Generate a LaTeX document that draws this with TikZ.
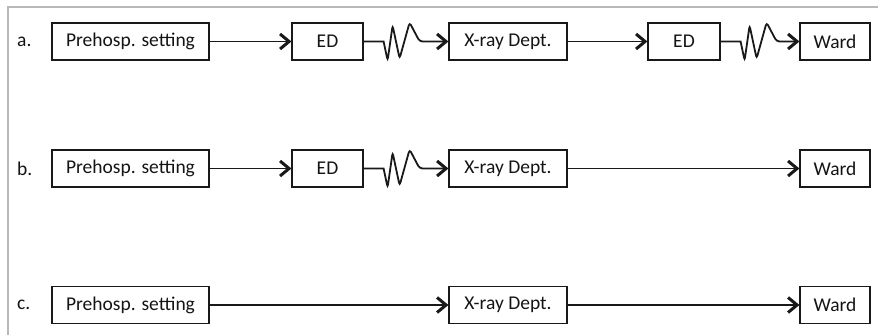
\documentclass[tikz,border=0pt]{standalone}
\usepackage{fontspec}
\setmainfont{Carlito}
\usetikzlibrary{arrows.meta}

\tikzset{
  stagebox/.style={draw=black!90, line width=1.2pt, minimum height=37pt, inner sep=0pt,
    font=\fontsize{19.5}{22}\selectfont, text=black!92},
  rowlabel/.style={anchor=west, inner sep=0pt, font=\fontsize{19.5}{22}\selectfont, text=black!92},
  conn/.style={draw=black!90, line width=1.8pt,
    -{Straight Barb[length=9pt, width=15pt, line width=3pt]}},
  wiggle/.style={to path={-- ++(20,0) [rounded corners=3pt] -- ++(4,-19) -- ++(5,35)
    -- ++(7,-33) -- ++(10,36) -- ++(10,-19) [sharp corners] -- (\tikztotarget)}},
  frameline/.style={draw=black!28, line width=1.5pt}
}

\begin{document}
\begin{tikzpicture}[x=1pt, y=1pt]
  \useasboundingbox (0,0) rectangle (878,335);

  % open frame (top and left edges only)
  \draw[frameline] (878,328) -- (8,328) -- (8,0);

  % row a
  \node[rowlabel] (la) at (17,293.5) {a.};
  \node[stagebox, minimum width=157pt] (pa) at (130.5,293.5) {Prehosp. setting};
  \node[stagebox, minimum width=71pt]  (ea) at (327.5,293.5) {ED};
  \node[stagebox, minimum width=118pt] (xa) at (508,293.5) {X-ray Dept.};
  \node[stagebox, minimum width=72pt]  (fa) at (684,293.5) {ED};
  \node[stagebox, minimum width=70pt]  (wa) at (835,293.5) {Ward};

  \draw[conn] (pa) -- (ea);
  \draw[conn] (ea.east) to[wiggle] (xa);
  \draw[conn] (xa) -- (fa);
  \draw[conn] (fa.east) to[wiggle] (wa);

  % row b
  \node[rowlabel] (lb) at (17,166.5) {b.};
  \node[stagebox, minimum width=157pt] (pb) at (130.5,166.5) {Prehosp. setting};
  \node[stagebox, minimum width=71pt]  (eb) at (327.5,166.5) {ED};
  \node[stagebox, minimum width=118pt] (xb) at (508,166.5) {X-ray Dept.};
  \node[stagebox, minimum width=70pt]  (wb) at (835,166.5) {Ward};

  \draw[conn] (pb) -- (eb);
  \draw[conn] (eb.east) to[wiggle] (xb);
  \draw[conn] (xb) -- (wb);

  % row c
  \node[rowlabel] (lc) at (17,30) {c.};
  \node[stagebox, minimum width=157pt] (pc) at (130.5,30) {Prehosp. setting};
  \node[stagebox, minimum width=118pt] (xc) at (508,30) {X-ray Dept.};
  \node[stagebox, minimum width=70pt]  (wc) at (835,30) {Ward};

  \draw[conn] (pc) -- (xc);
  \draw[conn] (xc) -- (wc);
\end{tikzpicture}
\end{document}
